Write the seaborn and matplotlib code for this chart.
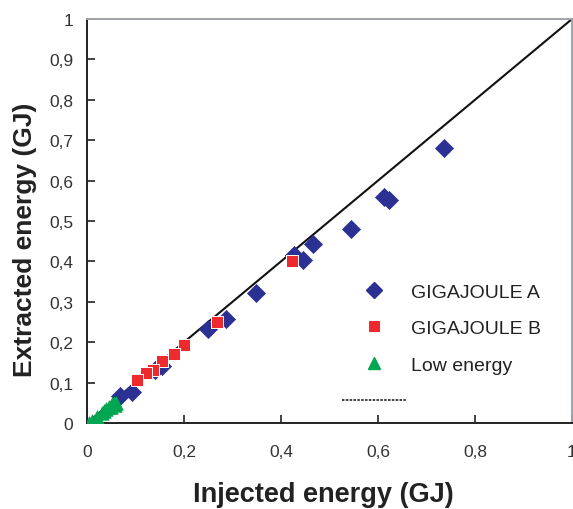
import matplotlib
matplotlib.use("Agg")
import matplotlib.pyplot as plt
from matplotlib.lines import Line2D
import seaborn as sns
import pandas as pd

# Data
a_x = [0.737, 0.622, 0.613, 0.545, 0.467, 0.445, 0.426, 0.349, 0.287, 0.250, 0.154, 0.140, 0.092, 0.068]
a_y = [0.680, 0.553, 0.560, 0.480, 0.443, 0.403, 0.416, 0.321, 0.257, 0.233, 0.142, 0.130, 0.077, 0.068]
b_x = [0.422, 0.268, 0.200, 0.179, 0.154, 0.137, 0.121, 0.104]
b_y = [0.401, 0.251, 0.193, 0.172, 0.154, 0.131, 0.123, 0.106]
c_x = [0.005, 0.010, 0.020, 0.030, 0.035, 0.040, 0.045, 0.050, 0.052, 0.055, 0.060, 0.058]
c_y = [0.000, 0.005, 0.015, 0.025, 0.030, 0.035, 0.040, 0.040, 0.046, 0.050, 0.050, 0.044]
diag = [0.0, 1.0]
ticks = [0, 0.2, 0.4, 0.6, 0.8, 1]
yticks = [0, 0.1, 0.2, 0.3, 0.4, 0.5, 0.6, 0.7, 0.8, 0.9, 1]
labels = ["GIGAJOULE A", "GIGAJOULE B", "Low energy"]

sns.set_style("ticks")
plt.rcParams["font.family"] = ["Liberation Sans", "DejaVu Sans"]

fig = plt.figure(figsize=(5.73, 5.10), dpi=100)
ax = fig.add_axes([87/573, 1-424/510, (572-87)/573, (424-20)/510])

blue, red, green = "#2b3192", "#ee2a2e", "#00a651"

sns.lineplot(x=diag, y=diag, ax=ax, color="#111111", lw=1.5, zorder=1)
sns.scatterplot(x=a_x, y=a_y, ax=ax, marker="D", s=85, color=blue, edgecolor=blue, linewidth=0.5, zorder=3)
sns.scatterplot(x=b_x, y=b_y, ax=ax, marker="s", s=85, color=red, edgecolor="white", linewidth=0.7, zorder=4)
sns.scatterplot(x=c_x, y=c_y, ax=ax, marker="^", s=95, color=green, edgecolor=green, linewidth=0.5, zorder=5)

ax.set_xlim(0, 1)
ax.set_ylim(0, 1)
ax.set_xticks(ticks)
ax.set_yticks(yticks)
ax.set_xticklabels([f"{t:g}".replace(".", ",") for t in ticks])
ax.set_yticklabels([f"{t:g}".replace(".", ",") for t in yticks])
ax.tick_params(direction="in", length=6, width=1.2, labelsize=12.5, labelcolor="#333333", color="#222222")
ax.tick_params(axis="x", pad=15)
ax.tick_params(axis="y", pad=10)
for s in ["left", "bottom"]:
    ax.spines[s].set_color("#222222")
    ax.spines[s].set_linewidth(1.4)
for s in ["top", "right"]:
    ax.spines[s].set_color("#a0a4a8")
    ax.spines[s].set_linewidth(1.4)

ax.set_xlabel("Injected energy (GJ)", fontsize=19.5, fontweight="bold", color="#222222")
ax.set_ylabel("Extracted energy (GJ)", fontsize=19, fontweight="bold", color="#222222")
ax.xaxis.set_label_coords((323-87)/485, -(495-424)/404, transform=ax.transAxes)
ax.xaxis.label.set_va("center")
ax.yaxis.set_label_coords(-(87-25)/485, (424-240)/404, transform=ax.transAxes)
ax.yaxis.label.set_va("center")

handles = [
    Line2D([], [], marker="D", color=blue, ls="none", markersize=8),
    Line2D([], [], marker="s", color=red, mec="white", mew=0.7, ls="none", markersize=9),
    Line2D([], [], marker="^", color=green, ls="none", markersize=9),
    Line2D([], [], color="#222222", ls=(0, (1.5, 0.8)), lw=1.2),
]
leg = ax.legend(handles, labels + [""], loc="upper left", bbox_to_anchor=(342/573, 1-284/510),
                bbox_transform=fig.transFigure, frameon=False, fontsize=14,
                handlelength=3.34, handletextpad=0.2, labelspacing=0.98, borderpad=0, borderaxespad=0)
for t in leg.get_texts():
    t.set_color("#222222")

fig.savefig("out.png", dpi=100)
